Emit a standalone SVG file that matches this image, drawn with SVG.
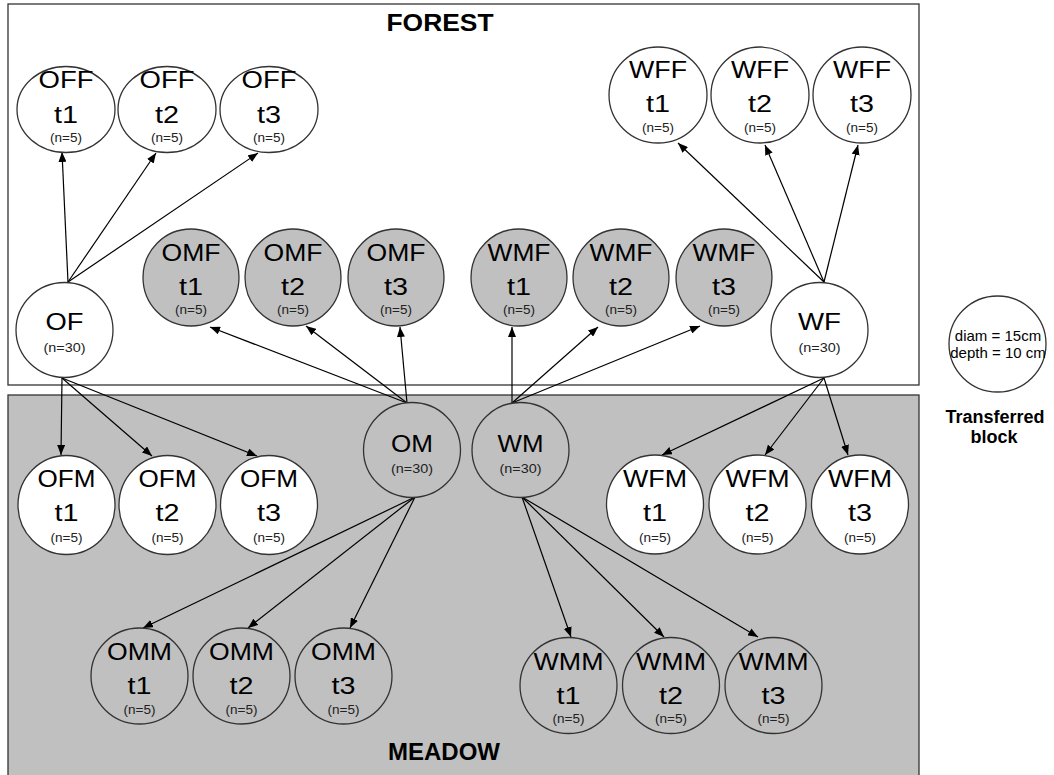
<svg xmlns="http://www.w3.org/2000/svg" width="1054" height="775" viewBox="0 0 1054 775">
<defs>
<marker id="ah" markerUnits="userSpaceOnUse" markerWidth="10" markerHeight="8" refX="10" refY="4" orient="auto"><path d="M0,0 L10,4 L0,8 z" fill="#000"/></marker>
<style>
.zone{stroke:#333;stroke-width:1.3}
.w{fill:#fff;stroke:#333;stroke-width:1.3}
.g{fill:#c0c0c0;stroke:#333;stroke-width:1.3}
text{font-family:"Liberation Sans",Arial,sans-serif;fill:#000;text-anchor:middle}
.nm{font-size:23.5px}
.n5{font-size:12px;fill:#222}
.n30{font-size:13px;fill:#222}
.ttl{font-size:23px;font-weight:bold}
.lg{font-size:15px}
.lgb{font-size:18px;font-weight:bold}
#conn line{stroke:#000;stroke-width:1.2;marker-end:url(#ah)}
</style>
</defs>
<rect id="forest" class="zone" x="8" y="4" width="911" height="381" fill="#fff"/>
<rect id="meadow" class="zone" x="8" y="395" width="911" height="382" fill="#c0c0c0"/>
<text class="ttl" x="440" y="31" textLength="107" lengthAdjust="spacingAndGlyphs">FOREST</text>
<text class="ttl" x="444" y="760" textLength="112" lengthAdjust="spacingAndGlyphs">MEADOW</text>

<g id="conn">
<line x1="68" y1="282" x2="62" y2="152"/>
<line x1="68" y1="282" x2="156" y2="153"/>
<line x1="68" y1="282" x2="258" y2="153"/>
<line x1="62" y1="378" x2="61" y2="455"/>
<line x1="62" y1="378" x2="152" y2="456"/>
<line x1="62" y1="378" x2="257" y2="456"/>
<line x1="407" y1="403" x2="210" y2="327"/>
<line x1="407" y1="403" x2="306" y2="326"/>
<line x1="407" y1="403" x2="400" y2="327"/>
<line x1="512" y1="403" x2="512" y2="327"/>
<line x1="512" y1="403" x2="598" y2="327"/>
<line x1="512" y1="403" x2="700" y2="326"/>
<line x1="824" y1="282" x2="678" y2="143"/>
<line x1="824" y1="282" x2="765" y2="145"/>
<line x1="824" y1="282" x2="858" y2="145"/>
<line x1="824" y1="378" x2="662" y2="455"/>
<line x1="824" y1="378" x2="765" y2="455"/>
<line x1="824" y1="378" x2="848" y2="455"/>
<line x1="415" y1="497" x2="143" y2="628"/>
<line x1="415" y1="497" x2="248" y2="628"/>
<line x1="415" y1="497" x2="350" y2="628"/>
<line x1="522" y1="497" x2="571" y2="637"/>
<line x1="522" y1="497" x2="664" y2="637"/>
<line x1="522" y1="497" x2="758" y2="637"/>
</g>

<g id="OFF1"><ellipse class="w" cx="66" cy="109.5" rx="49" ry="43"/><text class="nm" x="66" y="88" textLength="55" lengthAdjust="spacingAndGlyphs">OFF</text><text class="nm" x="66" y="123" textLength="24" lengthAdjust="spacingAndGlyphs">t1</text><text class="n5" x="66" y="142" textLength="32" lengthAdjust="spacingAndGlyphs">(n=5)</text></g>
<g id="OFF2"><ellipse class="w" cx="167" cy="109.5" rx="49" ry="43"/><text class="nm" x="167" y="88" textLength="55" lengthAdjust="spacingAndGlyphs">OFF</text><text class="nm" x="167" y="123" textLength="24" lengthAdjust="spacingAndGlyphs">t2</text><text class="n5" x="167" y="142" textLength="32" lengthAdjust="spacingAndGlyphs">(n=5)</text></g>
<g id="OFF3"><ellipse class="w" cx="269" cy="109.5" rx="49" ry="43"/><text class="nm" x="269" y="88" textLength="55" lengthAdjust="spacingAndGlyphs">OFF</text><text class="nm" x="269" y="123" textLength="24" lengthAdjust="spacingAndGlyphs">t3</text><text class="n5" x="269" y="142" textLength="32" lengthAdjust="spacingAndGlyphs">(n=5)</text></g>

<g id="WFF1"><ellipse class="w" cx="658" cy="95" rx="49" ry="48"/><text class="nm" x="658" y="78" textLength="58" lengthAdjust="spacingAndGlyphs">WFF</text><text class="nm" x="658" y="112" textLength="24" lengthAdjust="spacingAndGlyphs">t1</text><text class="n5" x="658" y="132" textLength="32" lengthAdjust="spacingAndGlyphs">(n=5)</text></g>
<g id="WFF2"><ellipse class="w" cx="760" cy="95" rx="49" ry="48"/><text class="nm" x="760" y="78" textLength="58" lengthAdjust="spacingAndGlyphs">WFF</text><text class="nm" x="760" y="112" textLength="24" lengthAdjust="spacingAndGlyphs">t2</text><text class="n5" x="760" y="132" textLength="32" lengthAdjust="spacingAndGlyphs">(n=5)</text></g>
<g id="WFF3"><ellipse class="w" cx="862" cy="95" rx="49" ry="48"/><text class="nm" x="862" y="78" textLength="58" lengthAdjust="spacingAndGlyphs">WFF</text><text class="nm" x="862" y="112" textLength="24" lengthAdjust="spacingAndGlyphs">t3</text><text class="n5" x="862" y="132" textLength="32" lengthAdjust="spacingAndGlyphs">(n=5)</text></g>

<g id="OMF1"><ellipse class="g" cx="191" cy="277.5" rx="48" ry="48.5"/><text class="nm" x="191" y="261" textLength="59" lengthAdjust="spacingAndGlyphs">OMF</text><text class="nm" x="191" y="295" textLength="24" lengthAdjust="spacingAndGlyphs">t1</text><text class="n5" x="191" y="314" textLength="32" lengthAdjust="spacingAndGlyphs">(n=5)</text></g>
<g id="OMF2"><ellipse class="g" cx="293" cy="277.5" rx="48" ry="48.5"/><text class="nm" x="293" y="261" textLength="59" lengthAdjust="spacingAndGlyphs">OMF</text><text class="nm" x="293" y="295" textLength="24" lengthAdjust="spacingAndGlyphs">t2</text><text class="n5" x="293" y="314" textLength="32" lengthAdjust="spacingAndGlyphs">(n=5)</text></g>
<g id="OMF3"><ellipse class="g" cx="396" cy="277.5" rx="48" ry="48.5"/><text class="nm" x="396" y="261" textLength="59" lengthAdjust="spacingAndGlyphs">OMF</text><text class="nm" x="396" y="295" textLength="24" lengthAdjust="spacingAndGlyphs">t3</text><text class="n5" x="396" y="314" textLength="32" lengthAdjust="spacingAndGlyphs">(n=5)</text></g>
<g id="WMF1"><ellipse class="g" cx="519" cy="277.5" rx="48" ry="48.5"/><text class="nm" x="519" y="261" textLength="63" lengthAdjust="spacingAndGlyphs">WMF</text><text class="nm" x="519" y="295" textLength="24" lengthAdjust="spacingAndGlyphs">t1</text><text class="n5" x="519" y="314" textLength="32" lengthAdjust="spacingAndGlyphs">(n=5)</text></g>
<g id="WMF2"><ellipse class="g" cx="621" cy="277.5" rx="48" ry="48.5"/><text class="nm" x="621" y="261" textLength="63" lengthAdjust="spacingAndGlyphs">WMF</text><text class="nm" x="621" y="295" textLength="24" lengthAdjust="spacingAndGlyphs">t2</text><text class="n5" x="621" y="314" textLength="32" lengthAdjust="spacingAndGlyphs">(n=5)</text></g>
<g id="WMF3"><ellipse class="g" cx="724" cy="277.5" rx="48" ry="48.5"/><text class="nm" x="724" y="261" textLength="63" lengthAdjust="spacingAndGlyphs">WMF</text><text class="nm" x="724" y="295" textLength="24" lengthAdjust="spacingAndGlyphs">t3</text><text class="n5" x="724" y="314" textLength="32" lengthAdjust="spacingAndGlyphs">(n=5)</text></g>

<g id="OF"><ellipse class="w" cx="64.5" cy="330" rx="48.5" ry="47.5"/><text class="nm" x="64.5" y="330" textLength="38" lengthAdjust="spacingAndGlyphs">OF</text><text class="n30" x="64.5" y="352" textLength="42" lengthAdjust="spacingAndGlyphs">(n=30)</text></g>
<g id="WF"><ellipse class="w" cx="819.5" cy="330" rx="48.5" ry="47.5"/><text class="nm" x="819.5" y="330" textLength="43" lengthAdjust="spacingAndGlyphs">WF</text><text class="n30" x="819.5" y="352" textLength="42" lengthAdjust="spacingAndGlyphs">(n=30)</text></g>
<g id="OM"><ellipse class="g" cx="412" cy="450" rx="48.5" ry="47.5"/><text class="nm" x="412" y="452" textLength="42" lengthAdjust="spacingAndGlyphs">OM</text><text class="n30" x="412" y="473" textLength="42" lengthAdjust="spacingAndGlyphs">(n=30)</text></g>
<g id="WM"><ellipse class="g" cx="520.5" cy="450" rx="48.5" ry="47.5"/><text class="nm" x="520.5" y="452" textLength="46" lengthAdjust="spacingAndGlyphs">WM</text><text class="n30" x="520.5" y="473" textLength="42" lengthAdjust="spacingAndGlyphs">(n=30)</text></g>

<g id="OFM1"><ellipse class="w" cx="66.5" cy="505" rx="48.5" ry="49.5"/><text class="nm" x="66.5" y="487" textLength="58" lengthAdjust="spacingAndGlyphs">OFM</text><text class="nm" x="66.5" y="521" textLength="24" lengthAdjust="spacingAndGlyphs">t1</text><text class="n5" x="66.5" y="542" textLength="32" lengthAdjust="spacingAndGlyphs">(n=5)</text></g>
<g id="OFM2"><ellipse class="w" cx="167.5" cy="505" rx="48.5" ry="49.5"/><text class="nm" x="167.5" y="487" textLength="58" lengthAdjust="spacingAndGlyphs">OFM</text><text class="nm" x="167.5" y="521" textLength="24" lengthAdjust="spacingAndGlyphs">t2</text><text class="n5" x="167.5" y="542" textLength="32" lengthAdjust="spacingAndGlyphs">(n=5)</text></g>
<g id="OFM3"><ellipse class="w" cx="269" cy="505" rx="48.5" ry="49.5"/><text class="nm" x="269" y="487" textLength="58" lengthAdjust="spacingAndGlyphs">OFM</text><text class="nm" x="269" y="521" textLength="24" lengthAdjust="spacingAndGlyphs">t3</text><text class="n5" x="269" y="542" textLength="32" lengthAdjust="spacingAndGlyphs">(n=5)</text></g>
<g id="WFM1"><ellipse class="w" cx="655" cy="504.5" rx="48.5" ry="49.5"/><text class="nm" x="655" y="487" textLength="64" lengthAdjust="spacingAndGlyphs">WFM</text><text class="nm" x="655" y="521" textLength="24" lengthAdjust="spacingAndGlyphs">t1</text><text class="n5" x="655" y="542" textLength="32" lengthAdjust="spacingAndGlyphs">(n=5)</text></g>
<g id="WFM2"><ellipse class="w" cx="757.5" cy="504.5" rx="48.5" ry="49.5"/><text class="nm" x="757.5" y="487" textLength="64" lengthAdjust="spacingAndGlyphs">WFM</text><text class="nm" x="757.5" y="521" textLength="24" lengthAdjust="spacingAndGlyphs">t2</text><text class="n5" x="757.5" y="542" textLength="32" lengthAdjust="spacingAndGlyphs">(n=5)</text></g>
<g id="WFM3"><ellipse class="w" cx="860" cy="504.5" rx="48.5" ry="49.5"/><text class="nm" x="860" y="487" textLength="64" lengthAdjust="spacingAndGlyphs">WFM</text><text class="nm" x="860" y="521" textLength="24" lengthAdjust="spacingAndGlyphs">t3</text><text class="n5" x="860" y="542" textLength="32" lengthAdjust="spacingAndGlyphs">(n=5)</text></g>

<g id="OMM1"><ellipse class="g" cx="139.5" cy="676" rx="48.5" ry="48"/><text class="nm" x="139.5" y="660" textLength="65" lengthAdjust="spacingAndGlyphs">OMM</text><text class="nm" x="139.5" y="694" textLength="24" lengthAdjust="spacingAndGlyphs">t1</text><text class="n5" x="139.5" y="714" textLength="32" lengthAdjust="spacingAndGlyphs">(n=5)</text></g>
<g id="OMM2"><ellipse class="g" cx="241.5" cy="676" rx="48.5" ry="48"/><text class="nm" x="241.5" y="660" textLength="65" lengthAdjust="spacingAndGlyphs">OMM</text><text class="nm" x="241.5" y="694" textLength="24" lengthAdjust="spacingAndGlyphs">t2</text><text class="n5" x="241.5" y="714" textLength="32" lengthAdjust="spacingAndGlyphs">(n=5)</text></g>
<g id="OMM3"><ellipse class="g" cx="343.5" cy="676" rx="48.5" ry="48"/><text class="nm" x="343.5" y="660" textLength="65" lengthAdjust="spacingAndGlyphs">OMM</text><text class="nm" x="343.5" y="694" textLength="24" lengthAdjust="spacingAndGlyphs">t3</text><text class="n5" x="343.5" y="714" textLength="32" lengthAdjust="spacingAndGlyphs">(n=5)</text></g>
<g id="WMM1"><ellipse class="g" cx="568.5" cy="685.5" rx="48.5" ry="48"/><text class="nm" x="568.5" y="670" textLength="70" lengthAdjust="spacingAndGlyphs">WMM</text><text class="nm" x="568.5" y="704" textLength="24" lengthAdjust="spacingAndGlyphs">t1</text><text class="n5" x="568.5" y="723" textLength="32" lengthAdjust="spacingAndGlyphs">(n=5)</text></g>
<g id="WMM2"><ellipse class="g" cx="671" cy="685.5" rx="48.5" ry="48"/><text class="nm" x="671" y="670" textLength="70" lengthAdjust="spacingAndGlyphs">WMM</text><text class="nm" x="671" y="704" textLength="24" lengthAdjust="spacingAndGlyphs">t2</text><text class="n5" x="671" y="723" textLength="32" lengthAdjust="spacingAndGlyphs">(n=5)</text></g>
<g id="WMM3"><ellipse class="g" cx="773.5" cy="685.5" rx="48.5" ry="48"/><text class="nm" x="773.5" y="670" textLength="70" lengthAdjust="spacingAndGlyphs">WMM</text><text class="nm" x="773.5" y="704" textLength="24" lengthAdjust="spacingAndGlyphs">t3</text><text class="n5" x="773.5" y="723" textLength="32" lengthAdjust="spacingAndGlyphs">(n=5)</text></g>

<g id="legend"><ellipse class="w" cx="997.5" cy="344" rx="48.5" ry="48"/><text class="lg" x="998" y="341">diam = 15cm</text><text class="lg" x="998" y="358">depth = 10 cm</text><text class="lgb" x="995" y="423">Transferred</text><text class="lgb" x="994" y="443">block</text></g>
</svg>
